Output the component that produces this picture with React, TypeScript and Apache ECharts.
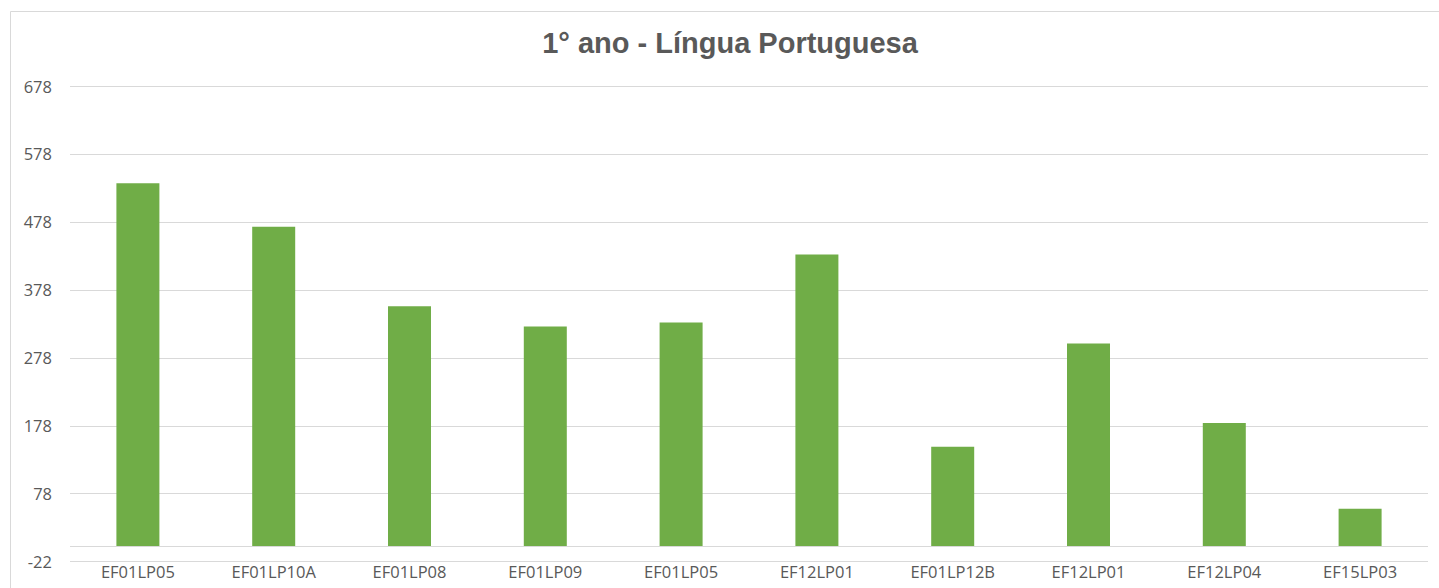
import React, { useEffect, useRef } from "react";
import * as echarts from "echarts";

const titleText = "1° ano - Língua Portuguesa";
const categories = [
  "EF01LP05",
  "EF01LP10A",
  "EF01LP08",
  "EF01LP09",
  "EF01LP05",
  "EF12LP01",
  "EF01LP12B",
  "EF12LP01",
  "EF12LP04",
  "EF15LP03",
];
const values = [535, 471, 354, 324, 330, 430, 147, 299, 182, 56];
const yMin = -22;
const yMax = 678;
const yInterval = 100;

export default function App() {
  const ref = useRef<HTMLDivElement>(null);
  useEffect(() => {
    if (!ref.current) return;
    const chart = echarts.init(ref.current, undefined, { renderer: "svg" });
    chart.setOption({
      animation: false,
      backgroundColor: "#ffffff",
      graphic: [
        {
          type: "rect",
          silent: true,
          shape: { x: 10.5, y: 11.5, width: 1440, height: 600 },
          style: { fill: "none", stroke: "#d9d9d9", lineWidth: 1 },
        },
        {
          type: "text",
          x: 730,
          y: 43,
          style: {
            text: titleText,
            fontFamily: "Liberation Sans, Arial, sans-serif",
            fontWeight: "bold",
            fontSize: 29,
            fill: "#595959",
            align: "center",
            verticalAlign: "middle",
          },
        },
      ],
      grid: { left: 70, right: 11, top: 86, bottom: 26.3, containLabel: false },
      xAxis: {
        type: "category",
        data: categories,
        axisLine: { show: false, onZero: false },
        axisTick: { show: false },
        axisLabel: {
          color: "#595959",
          fontFamily: "Open Sans, sans-serif",
          fontSize: 16.5,
          margin: 1,
          interval: 0,
        },
      },
      yAxis: {
        type: "value",
        min: yMin,
        max: yMax,
        interval: yInterval,
        axisLine: { show: false },
        axisTick: { show: false },
        axisLabel: {
          color: "#595959",
          fontFamily: "Open Sans, sans-serif",
          fontSize: 16.5,
          margin: 18,
        },
        splitLine: { lineStyle: { color: "#d9d9d9", width: 1 } },
      },
      series: [
        {
          type: "bar",
          data: values,
          barWidth: 43,
          itemStyle: { color: "#70ad47" },
          markLine: {
            silent: true,
            symbol: "none",
            label: { show: false },
            lineStyle: { color: "#d9d9d9", width: 1, type: "solid" },
            data: [{ yAxis: 0 }],
          },
        },
      ],
    });
    return () => chart.dispose();
  }, []);
  return (
    <div
      ref={ref}
      style={{ position: "fixed", left: 0, top: 0, width: 1439, height: 588 }}
    />
  );
}
